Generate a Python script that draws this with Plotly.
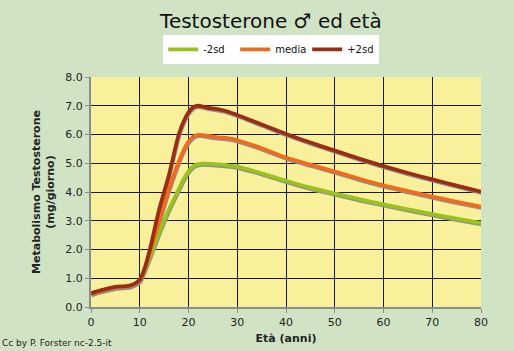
import plotly.graph_objects as go

ages = [0, 2, 5, 8, 10, 11, 12, 14, 16, 18, 19, 20, 21, 22, 23, 24, 26, 28, 30, 35, 40, 45, 50, 55, 60, 65, 70, 75, 80]
minus2sd = [0.46, 0.56, 0.68, 0.73, 0.92, 1.28, 1.70, 2.60, 3.40, 4.10, 4.45, 4.72, 4.90, 4.97, 4.99, 4.98, 4.96, 4.93, 4.88,
            4.65, 4.39, 4.15, 3.95, 3.75, 3.57, 3.40, 3.23, 3.07, 2.92]
media = [0.46, 0.56, 0.68, 0.73, 0.92, 1.30, 1.85, 3.00, 4.10, 5.05, 5.45, 5.75, 5.93, 5.99, 5.98, 5.95, 5.90, 5.87, 5.80,
         5.52, 5.20, 4.95, 4.71, 4.46, 4.23, 4.03, 3.84, 3.66, 3.49]
plus2sd = [0.48, 0.58, 0.70, 0.75, 0.95, 1.35, 1.95, 3.40, 4.60, 6.00, 6.45, 6.77, 6.95, 7.00, 6.97, 6.93, 6.88, 6.80, 6.68,
           6.35, 6.02, 5.72, 5.44, 5.16, 4.90, 4.66, 4.44, 4.22, 4.01]

series_names = ["-2sd", "media", "+2sd"]
series_values = [minus2sd, media, plus2sd]
series_colors = ["#99c31a", "#f26a1b", "#9a2d14"]

x_ticks = [0, 10, 20, 30, 40, 50, 60, 70, 80]
y_ticks = [0, 1, 2, 3, 4, 5, 6, 7, 8]

W, H = 514, 351
ml, mr, mt, mb = 91, 33, 77, 44
plot_w = W - ml - mr
plot_h = H - mt - mb
xr = [0, 80]
yr = [0, 8]
# shadow offset in pixels -> axis range shift
dx = 0.6 * (xr[1] - xr[0]) / plot_w
dy = 1.5 * (yr[1] - yr[0]) / plot_h

fig = go.Figure()

# empty trace so the base axes (ticks, grid) are drawn
fig.add_trace(go.Scatter(x=[], y=[], mode="lines", showlegend=False, hoverinfo="skip"))

# shadows (drawn on first overlay, below the lines)
for name, vals in zip(series_names, series_values):
    fig.add_trace(go.Scatter(x=ages, y=vals, mode="lines",
                             line=dict(color="#8f8f99", width=3.5, shape="spline", smoothing=0.8),
                             xaxis="x2", yaxis="y2", showlegend=False, hoverinfo="skip"))

for name, vals, col in zip(series_names, series_values, series_colors):
    fig.add_trace(go.Scatter(x=ages, y=vals, mode="lines", name=name,
                             line=dict(color=col, width=3.8, shape="spline", smoothing=0.8),
                             xaxis="x3", yaxis="y3"))

font_family = "DejaVu Sans, Verdana, sans-serif"

fig.update_layout(
    width=W, height=H,
    margin=dict(l=ml, r=mr, t=mt, b=mb),
    paper_bgcolor="#d0e4c5",
    plot_bgcolor="#f9f09b",
    font=dict(family=font_family, size=11, color="#222222"),
    title=dict(text="Testosterone ♂ ed età", x=0.527, xanchor="center", y=0.94, yanchor="middle",
               font=dict(size=20, color="#111111", family=font_family)),
    legend=dict(orientation="h", x=0.462, xanchor="center", y=1.12, yanchor="middle",
                bgcolor="#ffffff", font=dict(size=10, color="#111111"),
                itemwidth=30, entrywidth=27, entrywidthmode="pixels"),
    xaxis=dict(range=xr, tickvals=x_ticks, showgrid=True, gridcolor="#1a1a1a", gridwidth=1,
               showline=True, linecolor="#8c8c8c", linewidth=2, ticks="outside", ticklen=4,
               tickcolor="#8c8c8c", tickfont=dict(size=11), zeroline=False, automargin=False,
               title=dict(text="<b>Età (anni)</b>", font=dict(size=11), standoff=6), mirror=False),
    yaxis=dict(range=yr, tickvals=y_ticks, tickformat=".1f", showgrid=True, gridcolor="#1a1a1a", gridwidth=1,
               showline=True, linecolor="#8c8c8c", linewidth=2, ticks="outside", ticklen=4,
               tickcolor="#8c8c8c", tickfont=dict(size=11), zeroline=False, automargin=False,
               title=dict(text="<b>Metabolismo Testosterone<br>(mg/giorno)</b>", font=dict(size=11), standoff=8)),
    xaxis2=dict(range=[xr[0] - dx, xr[1] - dx], overlaying="x", visible=False),
    yaxis2=dict(range=[yr[0] + dy, yr[1] + dy], overlaying="y", visible=False),
    xaxis3=dict(range=xr, overlaying="x", visible=False),
    yaxis3=dict(range=yr, overlaying="y", visible=False),
    annotations=[dict(text="Cc by P. Forster nc-2.5-it", xref="paper", yref="paper",
                      x=-ml / plot_w, xanchor="left", y=-(343 - (H - mb)) / plot_h,
                      yanchor="middle", showarrow=False, font=dict(size=9, color="#222222"))],
)

fig.write_html("out.html")
